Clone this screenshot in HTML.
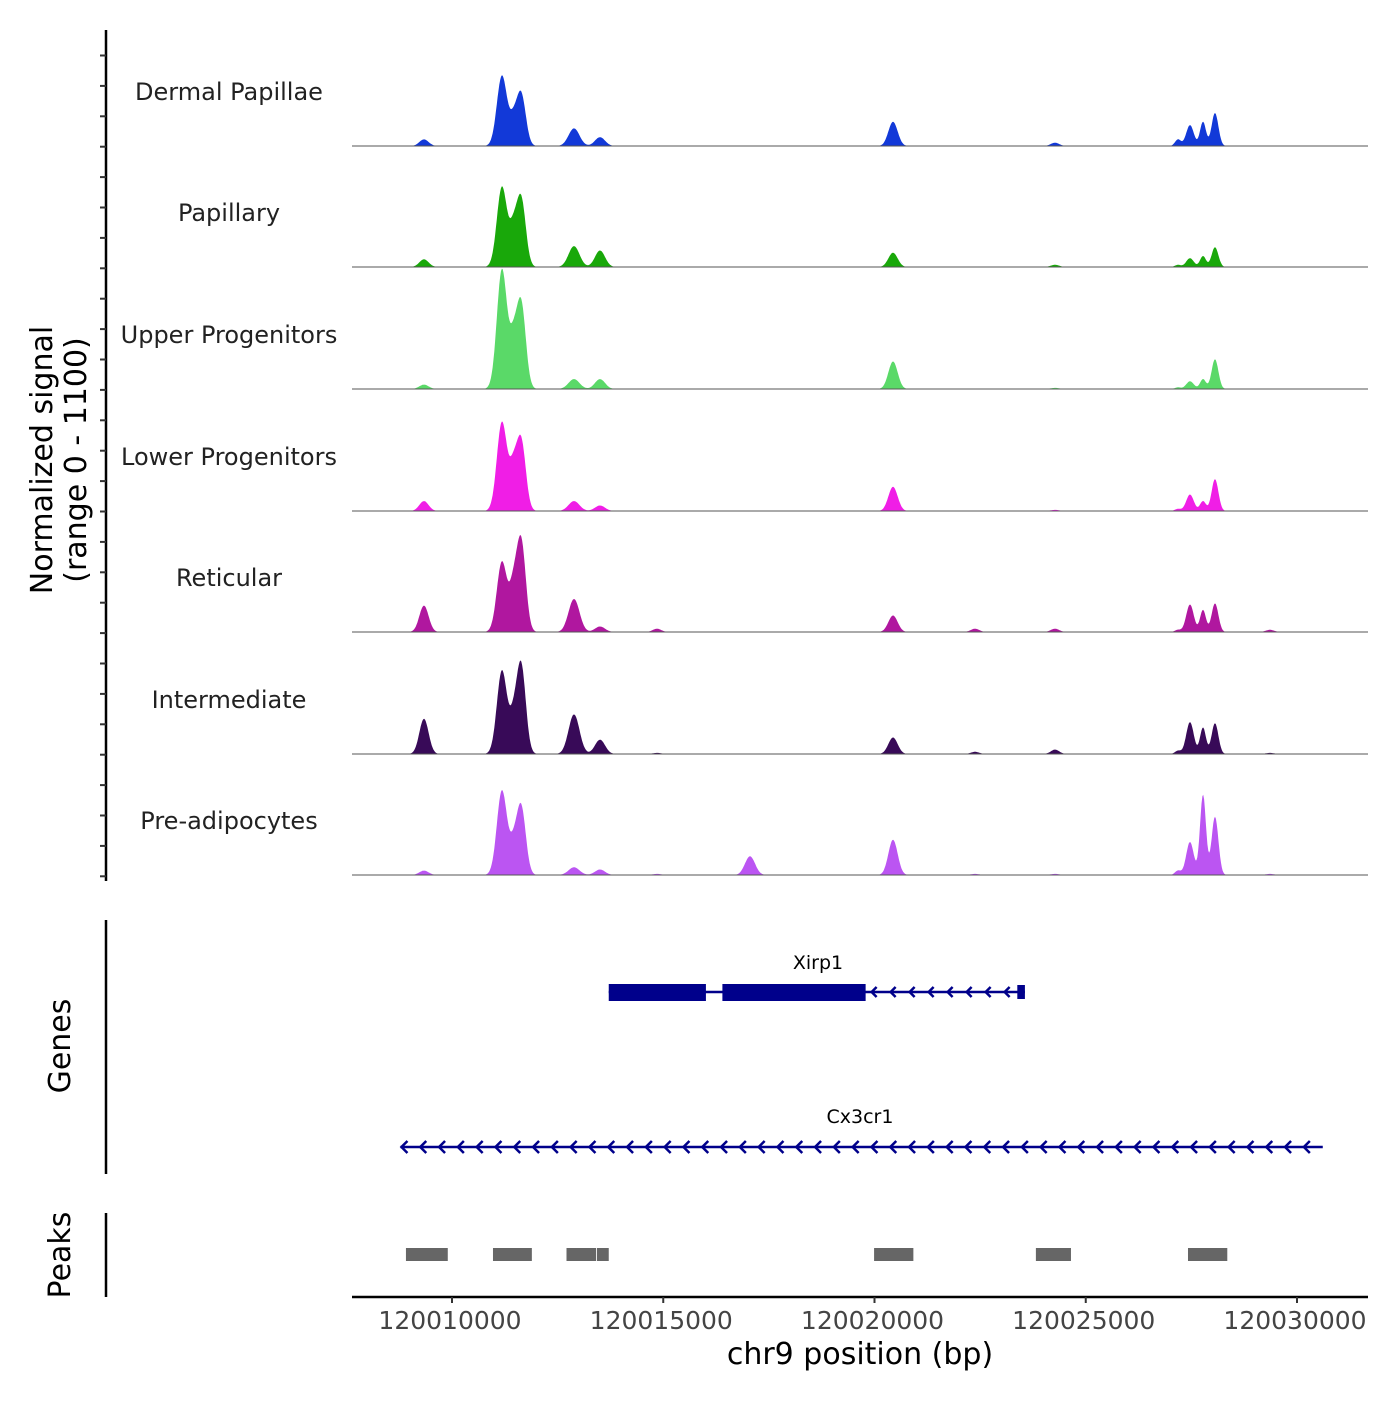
<!DOCTYPE html>
<html><head><meta charset="utf-8"><style>
body{margin:0;background:#fff}
svg text{font-family:"DejaVu Sans","Liberation Sans",sans-serif}
</style></head><body>
<svg id="chart" width="1400" height="1400" xmlns="http://www.w3.org/2000/svg">
<g id="tracks"></g>
<g id="yaxis"></g>
<text transform="translate(52,460) rotate(-90)" text-anchor="middle" font-size="30">Normalized signal</text>
<text transform="translate(86,460) rotate(-90)" text-anchor="middle" font-size="30">(range 0 - 1100)</text>
<g id="genes"></g>
<line x1="106" y1="920" x2="106" y2="1174" stroke="#000" stroke-width="2.5"/>
<text transform="translate(70,1046) rotate(-90)" text-anchor="middle" font-size="30">Genes</text>
<g id="peaks"></g>
<line x1="106" y1="1213" x2="106" y2="1297" stroke="#000" stroke-width="2.5"/>
<text transform="translate(70,1255) rotate(-90)" text-anchor="middle" font-size="30">Peaks</text>
<g id="xaxis"></g>
<text x="860" y="1364" text-anchor="middle" font-size="30">chr9 position (bp)</text>
</svg>
<script>
const trackNames=["Dermal Papillae","Papillary","Upper Progenitors","Lower Progenitors","Reticular","Intermediate","Pre-adipocytes"];
const trackColors=["#1239d8","#19a80a","#5ad968","#f01ee6","#b0179f","#380a58","#bb55f2"];
const peakCenters=[120009337,120011183,120011444,120011633,120012888,120013503,120020438,120024272,120027183,120027467,120027775,120028059,120017053,120022379,120029361,120014852];
const peakWidths=[110,120,90,110,130,120,110,100,70,90,70,80,120,100,100,100];
const heightsDP=[60,640,180,480,160,80,220,30,60,190,220,300,0,5,5,5];
const heightsPap=[70,730,270,630,190,150,130,20,20,80,100,180,0,5,5,5];
const heightsUpper=[40,1090,340,790,90,90,250,10,15,70,90,270,0,5,5,5];
const heightsLower=[90,810,310,650,90,50,220,10,20,150,90,290,0,5,5,5];
const heightsRet=[240,640,320,840,300,50,150,30,20,250,200,260,0,30,20,30];
const heightsInt=[320,760,240,820,360,130,150,40,30,290,240,280,0,20,10,10];
const heightsPre=[40,770,200,630,70,50,320,10,40,300,730,530,170,10,10,10];
const trackHeights=[heightsDP,heightsPap,heightsUpper,heightsLower,heightsRet,heightsInt,heightsPre];
const xTicks=[120010000,120015000,120020000,120025000,120030000];
const peakStarts=[120008910,120010970,120012710,120013430,120019990,120023820,120027420];
const peakEnds=[120009900,120011890,120013410,120013710,120020920,120024650,120028350];
const geneNames=["Xirp1","Cx3cr1"];
const geneStarts=[120013710,120008780];
const geneEnds=[120023560,120030610];
const xirpExonStarts=[120013710,120016400,120023380];
const xirpExonEnds=[120016010,120019790,120023560];

const NS="http://www.w3.org/2000/svg";
const X0=120010000, PX0=452, SCALE=845/20000;
const xs=bp=>PX0+(bp-X0)*SCALE;
const baselines=[146,267,389,511,632,754,875];
const maxVal=1100, trackPx=121;
const ys=(v,i)=>baselines[i]-v/maxVal*trackPx;
function mk(tag,attrs,parent){const e=document.createElementNS(NS,tag);for(const k in attrs)e.setAttribute(k,attrs[k]);parent.appendChild(e);return e;}

const tracks=document.getElementById('tracks');
const startBp=120008900,endBp=120031000;
for(let t=0;t<7;t++){
  const h=trackHeights[t];
  let d=`M${xs(startBp)},${baselines[t]}`;
  for(let bp=startBp;bp<=endBp;bp+=20){
    let v=0;
    for(let p=0;p<peakCenters.length;p++){const z=(bp-peakCenters[p])/peakWidths[p];v+=h[p]*Math.exp(-0.5*z*z);}
    d+=`L${xs(bp).toFixed(1)},${ys(Math.min(v,maxVal),t).toFixed(1)}`;
  }
  d+=`L${xs(endBp)},${baselines[t]}Z`;
  const a=mk('path',{d:d,fill:trackColors[t]},tracks);
  
  
  const l=mk('line',{x1:352,x2:1368,y1:baselines[t],y2:baselines[t],stroke:'#555','stroke-width':1},tracks);
  
  
  const tx=mk('text',{x:229,y:baselines[t]-46,'text-anchor':'middle','font-size':24,fill:'#222'},tracks);
  tx.textContent=trackNames[t];
  
  
}
const ya=document.getElementById('yaxis');
mk('line',{x1:106,x2:106,y1:30,y2:881,stroke:'#000','stroke-width':2.5},ya);
for(let y=55.5;y<=880;y+=30.4){mk('line',{x1:100,x2:106,y1:y,y2:y,stroke:'#333','stroke-width':2},ya);}

const g=document.getElementById('genes');
const navy="#00008b";
mk('line',{x1:xs(geneStarts[0]),x2:xs(geneEnds[0]),y1:992,y2:992,stroke:navy,'stroke-width':2.5},g);
for(let i=0;i<xirpExonStarts.length;i++){
  const r=mk('rect',{x:xs(xirpExonStarts[i]),y:i==2?985:984,width:xs(xirpExonEnds[i])-xs(xirpExonStarts[i]),height:i==2?14:17,fill:navy},g);
  
  
}
for(let x=xs(xirpExonEnds[1])+6;x<xs(xirpExonStarts[2])-5;x+=19){mk('path',{d:`M${x+5},987 L${x},992 L${x+5},997`,fill:'none',stroke:navy,'stroke-width':2.5},g);}
let t1=mk('text',{x:818,y:969,'text-anchor':'middle','font-size':19},g);t1.textContent=geneNames[0];


mk('line',{x1:xs(geneStarts[1]),x2:xs(geneEnds[1]),y1:1147,y2:1147,stroke:navy,'stroke-width':2.5},g);
for(let x=xs(geneStarts[1])+1;x<xs(geneEnds[1])-10;x+=18.8){mk('path',{d:`M${x+6},1141 L${x},1147 L${x+6},1153`,fill:'none',stroke:navy,'stroke-width':2.5},g);}
let t2=mk('text',{x:860,y:1123,'text-anchor':'middle','font-size':19},g);t2.textContent=geneNames[1];



const pk=document.getElementById('peaks');
for(let i=0;i<peakStarts.length;i++){
  const r=mk('rect',{x:xs(peakStarts[i]),y:1248,width:xs(peakEnds[i])-xs(peakStarts[i]),height:13,fill:'#666'},pk);
  
  
}
const xa=document.getElementById('xaxis');
mk('line',{x1:352,x2:1368,y1:1297,y2:1297,stroke:'#000','stroke-width':2.5},xa);
for(const v of xTicks){
  mk('line',{x1:xs(v),x2:xs(v),y1:1297,y2:1303,stroke:'#333','stroke-width':2},xa);
  const t=mk('text',{x:xs(v)-2,y:1329,'text-anchor':'middle','font-size':25,fill:'#444'},xa);
  t.textContent=v;
  
  
}
</script>
</body></html>
